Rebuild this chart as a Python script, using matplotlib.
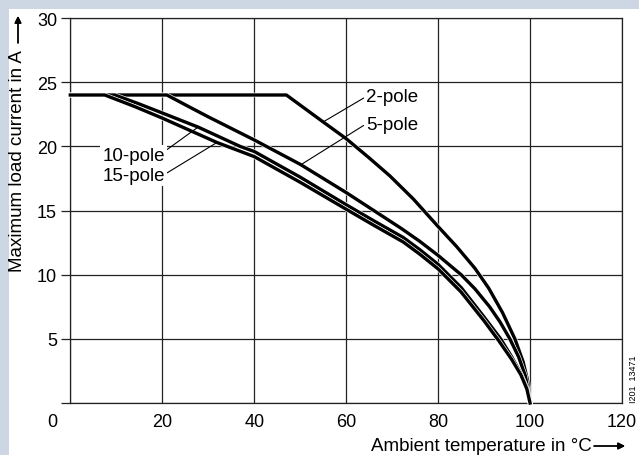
import matplotlib.pyplot as plt
import matplotlib.patheffects as pe
from matplotlib.patches import Rectangle

plt.rcParams['font.family'] = ['Liberation Sans', 'DejaVu Sans']

# derating curves
x_2pole = [0, 47, 51, 55, 60, 65, 69.5, 74.6, 80, 84, 88, 91, 94, 96.7, 98.5, 99.5, 100]
y_2pole = [24, 24, 22.95, 21.9, 20.6, 19.1, 17.7, 15.9, 13.75, 12.2, 10.5, 8.95, 7.05, 5.0, 3.2, 1.7, 0]

x_5pole = [0, 21, 26, 30, 35, 40, 50, 60, 66, 72, 76, 80, 85, 88, 91.2, 93.5, 95.6, 97.5, 99, 100]
y_5pole = [24, 24, 23.05, 22.3, 21.4, 20.5, 18.6, 16.4, 15.0, 13.6, 12.6, 11.5, 10.0, 8.9, 7.5, 6.3, 5.0, 3.6, 2.1, 0]

x_10pole = [0, 9.7, 15, 20, 27.8, 36.9, 40, 50, 60, 66, 72.4, 76, 80, 85, 90, 93.6, 96, 98, 99.3, 100]
y_10pole = [24, 24, 23.3, 22.6, 21.5, 20.0, 19.6, 17.6, 15.45, 14.2, 12.9, 11.95, 10.8, 9.0, 6.7, 5.0, 3.6, 2.3, 1.2, 0]

x_15pole = [0, 7.5, 14, 20, 31.9, 40, 50, 60, 66, 72.4, 76, 80, 85, 90, 93.2, 96, 98, 99.3, 100]
y_15pole = [24, 24, 23.1, 22.2, 20.3, 19.2, 17.2, 15.1, 13.85, 12.55, 11.6, 10.45, 8.65, 6.4, 4.85, 3.4, 2.2, 1.1, 0]

xticks = [0, 20, 40, 60, 80, 100, 120]
yticks = [0, 5, 10, 15, 20, 25, 30]

W, H = 639, 456
fig = plt.figure(figsize=(W / 100, H / 100), dpi=100)
fig.patch.set_facecolor('#cdd7e3')
fig.add_artist(Rectangle((9 / W, 0), 1, 1 - 10 / H, transform=fig.transFigure,
                         facecolor='white', edgecolor='none', zorder=-1))

ax = fig.add_axes([70.3 / W, 1 - 404 / H, (622 - 70.3) / W, (404 - 19) / H])
ax.set_xlim(0, 120)
ax.set_ylim(0, 30)

gc = '#222222'
fs = 13
ax.set_xticks(xticks)
ax.set_xticklabels([''] + [str(v) for v in xticks[1:]])
ax.set_yticks(yticks)
ax.set_yticklabels([''] + [str(v) for v in yticks[1:]])
ax.set_xticks([0], minor=True)
ax.set_xticklabels([''], minor=True)
ax.tick_params(axis='x', which='major', length=0, pad=7.5, labelsize=fs)
ax.tick_params(axis='x', which='minor', length=6, width=0.9, color=gc)
ax.tick_params(axis='y', length=6.5, width=0.9, color=gc, pad=3, labelsize=fs)
ax.grid(True, color=gc, lw=0.9)
for s in ax.spines.values():
    s.set_color(gc)
    s.set_linewidth(0.9)

ax.annotate('0', xy=(0, 0), xytext=(-18, -19), textcoords='offset pixels',
            ha='center', va='center', fontsize=fs)

stroke = [pe.Stroke(linewidth=3.3, foreground='white'), pe.Normal()]
for xs, ys in [(x_2pole, y_2pole), (x_5pole, y_5pole),
               (x_10pole, y_10pole), (x_15pole, y_15pole)]:
    ax.plot(xs, ys, color='black', lw=2.4, solid_joinstyle='round',
            path_effects=stroke, clip_on=False, zorder=3)

# labels with leader lines
lfs = 13.5
box = dict(facecolor='white', edgecolor='none', pad=1.5)
ax.annotate('2-pole', xy=(55.0, 21.9), xytext=(64.4, 23.9), fontsize=lfs,
            ha='left', va='center', zorder=4,
            arrowprops=dict(arrowstyle='-', lw=0.8, color='black',
                            shrinkA=0, shrinkB=0, relpos=(-0.05, 0.4)))
ax.annotate('5-pole', xy=(50.3, 18.6), xytext=(64.4, 21.7), fontsize=lfs,
            ha='left', va='center', zorder=4,
            arrowprops=dict(arrowstyle='-', lw=0.8, color='black',
                            shrinkA=0, shrinkB=0, relpos=(-0.05, 0.45)))
ax.annotate('10-pole', xy=(27.8, 21.5), xytext=(13.8, 19.3), fontsize=lfs,
            ha='center', va='center', zorder=4, bbox=box,
            arrowprops=dict(arrowstyle='-', lw=0.8, color='black',
                            shrinkA=0, shrinkB=0, relpos=(1.0, 0.75)))
ax.annotate('15-pole', xy=(31.9, 20.3), xytext=(13.8, 17.7), fontsize=lfs,
            ha='center', va='center', zorder=4, bbox=box,
            arrowprops=dict(arrowstyle='-', lw=0.8, color='black',
                            shrinkA=0, shrinkB=0, relpos=(1.0, 0.6)))

# axis titles with arrows
fig.text(18 / W, 1 - 50 / H, 'Maximum load current in A', rotation=90,
         ha='center', va='top', fontsize=lfs)
fig.text(592 / W, 1 - 447 / H, 'Ambient temperature in °C',
         ha='right', va='center', fontsize=lfs)
arrow = dict(arrowstyle='-|>', lw=1.0, color='black', mutation_scale=10,
             shrinkA=0, shrinkB=0)
fig.add_artist(plt.annotate('', xy=(625 / W, 1 - 447 / H), xytext=(594 / W, 1 - 447 / H),
                            xycoords='figure fraction', arrowprops=arrow))
fig.add_artist(plt.annotate('', xy=(18 / W, 1 - 17 / H), xytext=(18 / W, 1 - 44 / H),
                            xycoords='figure fraction', arrowprops=arrow))

fig.text(633 / W, 1 - 379 / H, 'I201  13471', rotation=90, ha='center',
         va='center', fontsize=6.5)

fig.savefig('out.png', dpi=100)
